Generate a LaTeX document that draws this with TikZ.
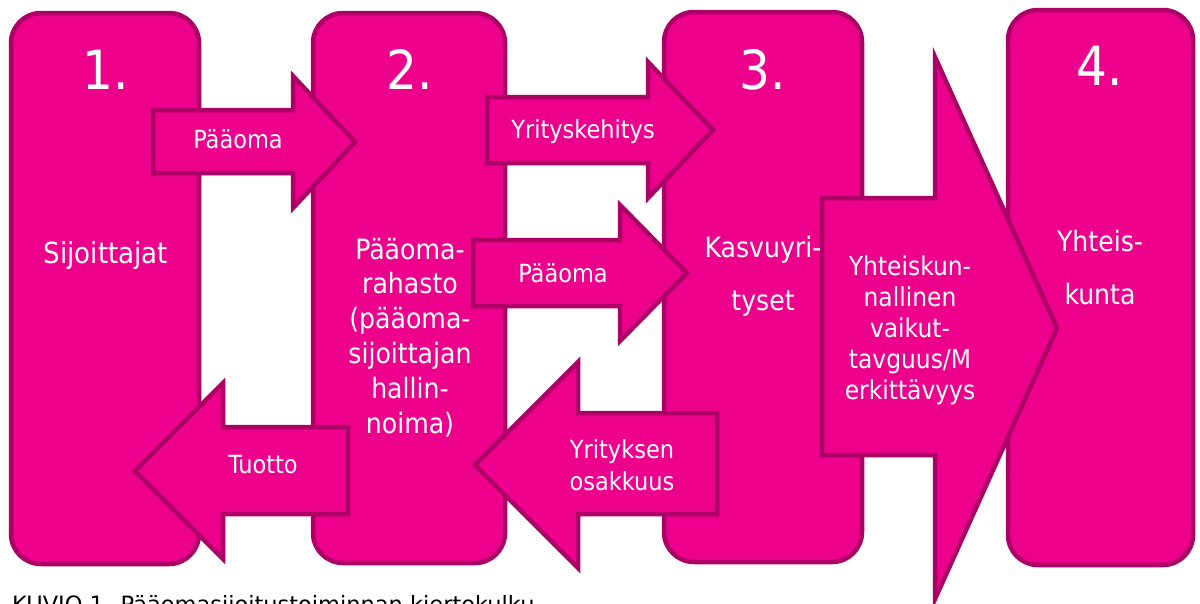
\documentclass[tikz,border=0pt]{standalone}
\usepackage{fontspec}
\setmainfont{DejaVu Sans Condensed}
\newfontfamily\capfont{DejaVu Sans}
\definecolor{mfill}{HTML}{EC008C}
\definecolor{mline}{HTML}{AD0067}
\begin{document}
\begin{tikzpicture}[x=1pt,y=-1pt,
  panel/.style={draw=mline, fill=mfill, line width=4.5pt, rounded corners=30pt},
  blockarrow/.style={draw=mline, fill=mfill, line width=4.5pt, line join=miter},
  num/.style={text=white, font=\fontsize{54}{60}\selectfont, anchor=base, inner sep=0pt},
  boxlabel/.style={text=white, align=center, anchor=base, inner sep=0pt},
  arrowlabel/.style={text=white, font=\fontsize{25}{32}\selectfont, align=center, anchor=base, inner sep=0pt},
  caption/.style={text=black, font=\capfont\fontsize{22.5}{26}\selectfont, anchor=base west, inner sep=0pt}]
\clip (0,0) rectangle (1200,603);
\fill[white] (0,0) rectangle (1200,603);
% panels
\draw[panel] (11,13) rectangle (199,564);
\draw[panel] (313,13) rectangle (505,563);
\draw[panel] (664,12) rectangle (862,562);
\draw[panel] (1008,10) rectangle (1193,565);
% block arrows
\draw[blockarrow] (153,110) -- (293,110) -- (293,76) -- (355,142) -- (293,208) -- (293,173) -- (153,173) -- cycle;
\draw[blockarrow] (487,97) -- (648,97) -- (648,62) -- (713,130) -- (648,198) -- (648,163) -- (487,163) -- cycle;
\draw[blockarrow] (473,240) -- (620,240) -- (620,205) -- (687,273) -- (620,341) -- (620,306) -- (473,306) -- cycle;
\draw[blockarrow] (348,427) -- (223,427) -- (223,383) -- (135,471) -- (223,559) -- (223,514) -- (348,514) -- cycle;
\draw[blockarrow] (717,413) -- (578,413) -- (578,362) -- (475,465) -- (578,568) -- (578,514) -- (717,514) -- cycle;
\draw[blockarrow] (822,198) -- (935,198) -- (935,57) -- (1057,328) -- (935,599) -- (935,455) -- (822,455) -- cycle;
% numbers
\node[num] (n1) at (106,89) {1.};
\node[num] (n2) at (410,89) {2.};
\node[num] (n3) at (763,89) {3.};
\node[num] (n4) at (1100,85) {4.};
% panel labels (anchor=base is the baseline of the last line)
\node[boxlabel, font=\fontsize{29}{34.8}\selectfont] (l1) at (106,263) {Sijoittajat};
\node[boxlabel, font=\fontsize{28}{34.8}\selectfont] (l2) at (410,433) {Pääoma-\\rahasto\\(pääoma-\\sijoittajan\\hallin-\\noima)};
\node[boxlabel, font=\fontsize{28}{53}\selectfont] (l3) at (763,310) {Kasvuyri-\\tyset};
\node[boxlabel, font=\fontsize{28}{53}\selectfont] (l4) at (1100,304) {Yhteis-\\kunta};
% arrow labels
\node[arrowlabel] (a1) at (238,148) {Pääoma};
\node[arrowlabel] (a2) at (583,138) {Yrityskehitys};
\node[arrowlabel] (a3) at (563,282) {Pääoma};
\node[arrowlabel] (a4) at (263,473) {Tuotto};
\node[arrowlabel] (a5) at (622,490) {Yrityksen\\osakkuus};
\node[arrowlabel, font=\fontsize{26}{31}\selectfont] (a6) at (910,399) {Yhteiskun-\\nallinen\\vaikut-\\tavguus/M\\erkittävyys};
% caption (cut off by the lower edge)
\node[caption] (cap) at (12,612) {KUVIO 1. Pääomasijoitustoiminnan kiertokulku};
\end{tikzpicture}
\end{document}
